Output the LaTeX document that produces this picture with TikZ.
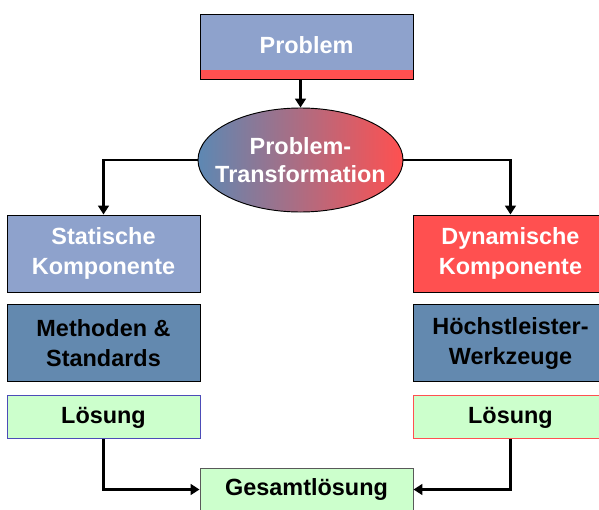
\documentclass[tikz,border=0pt]{standalone}
\usepackage{fontspec}
\setmainfont{Liberation Sans}
\usetikzlibrary{arrows.meta, shapes.geometric, positioning}
\definecolor{probblue}{HTML}{8EA2CC}
\definecolor{darkblue}{HTML}{6389AF}
\definecolor{probred}{HTML}{FF5050}
\definecolor{ellblue}{HTML}{5D88B3}
\definecolor{loesgreen}{HTML}{CCFFCC}
\tikzset{
    box/.style={draw=black, line width=0.8pt, minimum width=5.79cm, minimum height=2.31cm,
        align=center, inner sep=0pt, font=\bfseries\fontsize{20}{25.5}\selectfont}, % common box
    light box/.style={box, fill=probblue, text=white}, % light blue, white text
    dark box/.style={box, fill=darkblue, text=black}, % steel blue, black text
    red box/.style={box, fill=probred, text=white}, % red, white text
    result box/.style={box, fill=loesgreen, minimum height=1.29cm}, % green result
    conn/.style={line width=2pt, -{Triangle[length=7.5pt, width=9pt]}} % connector
}

\begin{document}
\begin{tikzpicture}[x=0.03cm, y=-0.03cm]
    \clip (0,0) rectangle (599,509);

    \node[light box, minimum width=6.39cm, minimum height=1.95cm,
        path picture={\fill[probred] (path picture bounding box.south west)
            rectangle ([yshift=0.27cm]path picture bounding box.south east);}]
        (problem) at (306.5,46.5) {\raisebox{0.09cm}{Problem}};

    % text is wider than the ellipse, so it goes in as a label
    \node[ellipse, draw=black, line width=0.8pt, left color=ellblue, right color=probred,
        minimum width=6.15cm, minimum height=3.12cm, inner sep=0pt,
        label={[text=white, align=center, font=\bfseries\fontsize{20}{24}\selectfont]
            center:{Problem-\\Transformation}}]
        (trans) at (300.5,160) {};

    % left column
    \node[light box] (stat) at (103.5,253.5) {Statische\\Komponente};
    \node[dark box, below=0.36cm of stat] (meth) {Methoden \&\\Standards};
    \node[result box, draw=blue!60!black!70, below=0.39cm of meth] (loesL) {Lösung};

    % right column
    \node[red box, right=6.39cm of stat] (dyn) {Dynamische\\Komponente};
    \node[dark box, below=0.36cm of dyn] (hoech) {Höchstleister-\\Werkzeuge};
    \node[result box, draw=probred, below=0.39cm of hoech] (loesR) {Lösung};

    \node[result box, draw=black!65, minimum width=6.39cm] (gesamt) at (306.5,489.5) {Gesamtlösung};

    \draw[conn] (trans.north |- problem.south) -- (trans.north);
    \draw[conn] (trans.west) -| (stat.north);
    \draw[conn] (trans.east) -| (dyn.north);
    \draw[conn] (loesL.south) |- (gesamt.west);
    \draw[conn] (loesR.south) |- (gesamt.east);
\end{tikzpicture}
\end{document}
